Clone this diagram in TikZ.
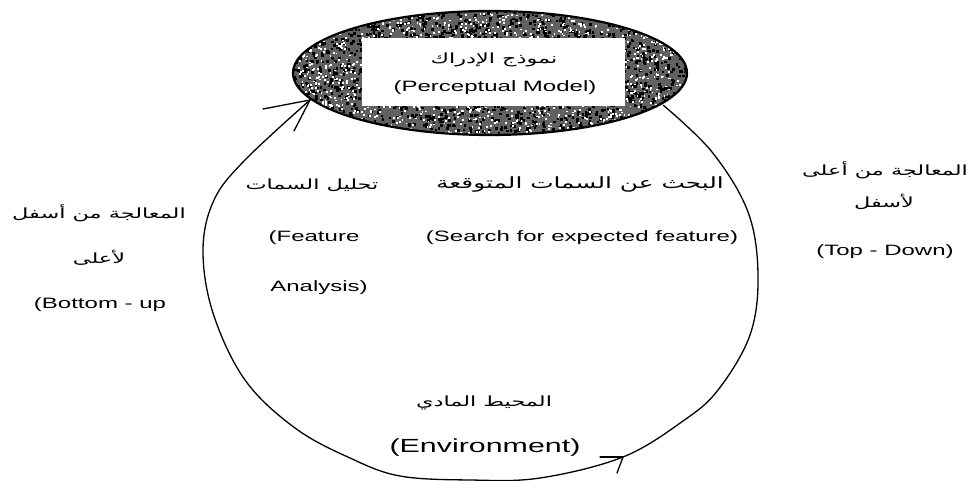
\documentclass[tikz,border=0pt]{standalone}
\usepackage{fontspec}
\setmainfont{Liberation Sans}[FakeStretch=1.6]
\newfontfamily\arabicfont[Script=Arabic,FakeStretch=1.6]{DejaVu Sans}
\TeXXeTstate=1
\tikzset{
  lat/.style={inner sep=0pt, font=\fontsize{15}{18}\selectfont},
  arb/.style={inner sep=0pt, font=\arabicfont\fontsize{14}{18}\selectfont},
  loopline/.style={line width=1.3pt, black},
  barb/.style={line width=1.3pt, black, line cap=round},
}
\begin{document}
\begin{tikzpicture}[x=1pt,y=-1pt]
\useasboundingbox (0,0) rectangle (968,481);

% the processing loop around the model
\draw[loopline] plot[smooth, tension=0.6] coordinates {
  (663,105) (712,152) (748,212) (758,275) (750,335) (718,390)
  (683,421) (623,457) (540,478) (470,480) (400,476) (350,458)
  (295,428) (245,380) (213,313) (203,250) (214,200) (245,160) (310,100)};

% arrow heads on the loop
\coordinate (tipA) at (310,100);
\coordinate (tipB) at (623,457);
\draw[barb] (tipA) -- (263,109);
\draw[barb] (tipA) -- (294,131);
\draw[barb] (tipB) -- (600,457);
\draw[barb] (tipB) -- (617,473);

% grainy ellipse of the perceptual model
\begin{scope}
  \clip (490,73) ellipse [x radius=197, y radius=62];
  \fill[black!62] (290,8) rectangle (690,138);
  \pgfmathsetseed{11}
  \foreach \k in {1,...,2200}{
    \pgfmathsetmacro\px{290+400*rnd}
    \pgfmathsetmacro\py{8+130*rnd}
    \fill[black] (\px,\py) rectangle ++(2.6,2.6);
  }
  \foreach \k in {1,...,1700}{
    \pgfmathsetmacro\px{290+400*rnd}
    \pgfmathsetmacro\py{8+130*rnd}
    \fill[white] (\px,\py) rectangle ++(1.8,1.8);
  }
\end{scope}
\draw[line width=2.2pt] (490,73) ellipse [x radius=197, y radius=62];
\node[fill=white, inner sep=0pt, minimum width=263pt, minimum height=68pt] (model) at (493.5,72) {};
\node[arb] (modelAr) at (494,60) {\beginR نموذج الإدراك\endR};
\node[lat] (modelEn) at (495,88) {(Perceptual Model)};

% bottom-up side
\node[arb] (buAr1) at (99,213) {\beginR المعالجة من أسفل\endR};
\node[arb] (buAr2) at (99,258) {\beginR لأعلى\endR};
\node[lat] (buEn) at (100,305) {(Bottom - up};

% top-down side
\node[arb] (tdAr1) at (885,170) {\beginR المعالجة من أعلى\endR};
\node[arb] (tdAr2) at (884,202) {\beginR لأسفل\endR};
\node[lat] (tdEn) at (885,252) {(Top - Down)};

% feature analysis
\node[arb] (faAr) at (312,185) {\beginR تحليل السمات\endR};
\node[lat] (faEn1) at (314,238) {(Feature};
\node[lat] (faEn2) at (319,288) {Analysis)};

% search for expected features
\node[arb, font=\arabicfont\fontsize{15.5}{18}\selectfont] (sfAr) at (580,185) {\beginR البحث عن السمات المتوقعة\endR};
\node[lat] (sfEn) at (582,238) {(Search for expected feature)};

% environment
\node[arb] (envAr) at (484,403) {\beginR المحيط المادي\endR};
\node[lat, font=\fontsize{19}{22}\selectfont] (envEn) at (485,448) {(Environment)};
\end{tikzpicture}
\end{document}
